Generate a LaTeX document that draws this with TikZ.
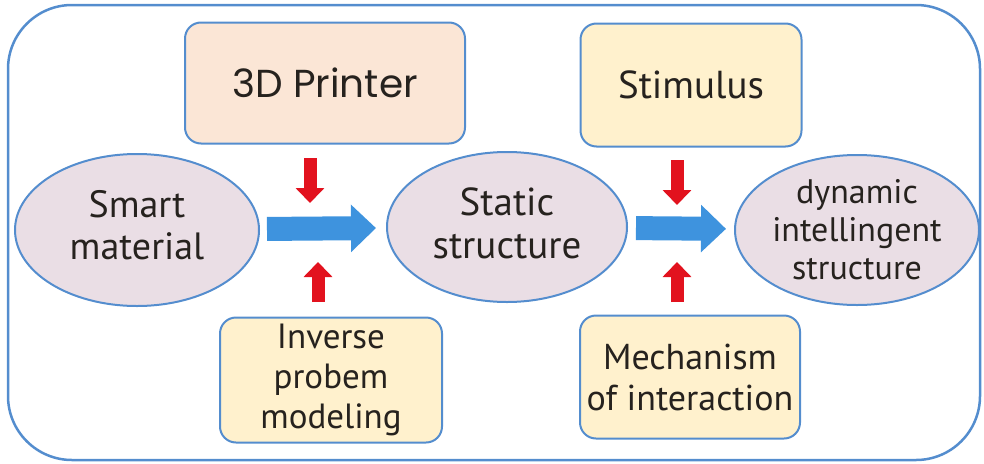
\documentclass[tikz,border=0pt]{standalone}
\usepackage{fontspec}
\setmainfont{PT Sans}
\newfontfamily\geofont{Poppins}
\usetikzlibrary{positioning,shapes.geometric,arrows.meta}

\definecolor{frameblue}{RGB}{84,141,206}
\definecolor{ellfill}{RGB}{234,222,229}
\definecolor{peach}{RGB}{251,230,214}
\definecolor{paleyellow}{RGB}{255,241,205}
\definecolor{arrowblue}{RGB}{62,147,222}
\definecolor{arrowred}{RGB}{226,18,30}
\definecolor{inkcol}{RGB}{38,34,30}

\tikzset{
  stage/.style={ellipse,draw=frameblue,line width=2pt,fill=ellfill,inner sep=0pt,
    minimum width=244pt,minimum height=152pt,align=center,text=inkcol},
  factor/.style={rectangle,rounded corners=16pt,draw=frameblue,line width=2pt,inner sep=0pt,
    align=center,text=inkcol},
  flow/.style={arrowblue,line width=24pt,-{Triangle[length=25pt,width=46pt]}},
  push/.style={arrowred,line width=13pt,-{Triangle[length=15pt,width=28pt]}}
}

\begin{document}
\begin{tikzpicture}[x=1pt,y=-1pt]
    \useasboundingbox (0,0) rectangle (984,463);
    \draw[frameblue,line width=2.5pt,rounded corners=64pt] (8,5) rectangle (980,460);
    % ellipses
    \node[stage,text depth=10pt,font=\fontsize{38}{42}\selectfont] (smart) at (137,230) {Smart\\material};
    \node[stage,minimum width=240pt,minimum height=150pt,text depth=8pt,font=\fontsize{39}{43}\selectfont] (static) at (507,227) {Static\\structure};
    \node[stage,minimum width=244pt,minimum height=150pt,font=\fontsize{34}{38}\selectfont] (dynamic) at (857,230) {dynamic\\intellingent\\structure};
    % boxes
    \node[factor,fill=peach,minimum width=280pt,minimum height=121pt,font=\geofont\fontsize{39}{44}\selectfont] (printer) at (325,83) {3D Printer};
    \node[factor,fill=paleyellow,minimum width=221pt,minimum height=123pt,font=\fontsize{39}{44}\selectfont] (stimulus) at (691,85) {Stimulus};
    \node[factor,fill=paleyellow,minimum width=222pt,minimum height=125pt,font=\fontsize{35}{40}\selectfont] (inverse) at (331,380) {Inverse\\probem\\modeling};
    \node[factor,fill=paleyellow,minimum width=220pt,minimum height=123pt,font=\fontsize{36}{41}\selectfont] (mechanism) at (690,377) {Mechanism\\of interaction};
    % blue arrows
    \draw[flow,shorten <=7pt,shorten >=10pt] (smart) -- (static);
    \draw[flow,shorten <=8pt,shorten >=8pt] (static) -- (dynamic);
    % red arrows
    \coordinate (p1) at (310,158);
    \coordinate (p2) at (310,203);
    \coordinate (i1) at (318,302);
    \coordinate (i2) at (318,262);
    \coordinate (s1) at (677,160);
    \coordinate (s2) at (677,205);
    \coordinate (m1) at (677,302);
    \coordinate (m2) at (677,262);
    \draw[push] (p1) -- (p2);
    \draw[push] (i1) -- (i2);
    \draw[push] (s1) -- (s2);
    \draw[push] (m1) -- (m2);
\end{tikzpicture}
\end{document}
